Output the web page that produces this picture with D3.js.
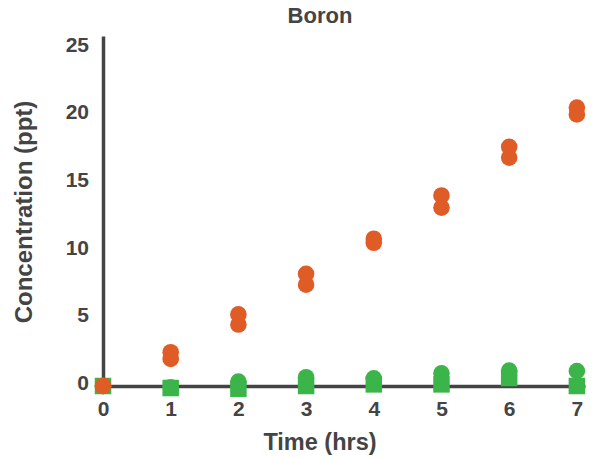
<!DOCTYPE html>
<html>
<head>
<meta charset="utf-8">
<script src="https://cdn.jsdelivr.net/npm/d3@7"></script>
<style>
  body { margin: 0; background: #fff; }
  svg { display: block; font-family: "Liberation Sans", Arial, sans-serif; }
  .tick text { font-size: 21px; font-weight: bold; fill: #444; }
</style>
</head>
<body>
<svg id="chart"></svg>
<script>
// data
let hours = [0, 1, 2, 3, 4, 5, 6, 7];
let orangeHigh = [0, 2.5, 5.3, 8.3, 10.9, 14.1, 17.7, 20.6];
let orangeLow = [0, 2.0, 4.55, 7.5, 10.6, 13.2, 16.9, 20.1];
let greenCircles = [0, -0.1, 0.33, 0.65, 0.57, 0.94, 1.14, 1.11];
let greenSquares = [0, -0.15, -0.2, 0, 0.12, 0.12, 0.59, 0];
let yTicks = [0, 5, 10, 15, 20, 25];

let width = 600;
let height = 457;
let orange = '#e05c26';
let green = '#3bb54a';
let ink = '#444';

let svg = d3.select('#chart')
  .attr('width', width)
  .attr('height', height);

let x = d3.scaleLinear().domain([0, 7.12]).range([103, 585]);
let y = d3.scaleLinear().domain([0, 25.9]).range([386, 36]);

// y axis
let yAxis = svg.append('g')
  .attr('transform', 'translate(' + x(0) + ',0)')
  .call(d3.axisLeft(y).tickValues(yTicks).tickSize(0).tickPadding(14));
yAxis.select('.domain').attr('stroke', ink).attr('stroke-width', 3.5);
yAxis.selectAll('.tick text').attr('dy', '0.15em');

// x axis
let xAxis = svg.append('g')
  .attr('transform', 'translate(0,' + y(0) + ')')
  .call(d3.axisBottom(x).tickValues(hours).tickFormat(d3.format('d')).tickSize(0).tickPadding(15));
xAxis.select('.domain').attr('stroke', ink).attr('stroke-width', 3.5);

// markers
let side = 16.5;
let r = 8.3;

svg.append('g').selectAll('rect')
  .data(hours)
  .enter()
  .append('rect')
  .attr('x', function (d) { return x(d) - side / 2; })
  .attr('y', function (d, i) { return y(greenSquares[i]) - side / 2; })
  .attr('width', side)
  .attr('height', side)
  .attr('fill', green);

svg.append('g').selectAll('circle')
  .data(hours)
  .enter()
  .append('circle')
  .attr('cx', function (d) { return x(d); })
  .attr('cy', function (d, i) { return y(greenCircles[i]); })
  .attr('r', r)
  .attr('fill', green);

[orangeLow, orangeHigh].forEach(function (series) {
  svg.append('g').selectAll('circle')
    .data(hours)
    .enter()
    .append('circle')
    .attr('cx', function (d) { return x(d); })
    .attr('cy', function (d, i) { return y(series[i]); })
    .attr('r', r)
    .attr('fill', orange);
});

// titles
svg.append('text')
  .attr('x', 320)
  .attr('y', 23)
  .attr('text-anchor', 'middle')
  .style('font-size', '22px')
  .style('font-weight', 'bold')
  .style('fill', ink)
  .text('Boron');

svg.append('text')
  .attr('x', 320)
  .attr('y', 450)
  .attr('text-anchor', 'middle')
  .style('font-size', '23.5px')
  .style('font-weight', 'bold')
  .style('fill', ink)
  .text('Time (hrs)');

svg.append('text')
  .attr('transform', 'translate(32,212) rotate(-90)')
  .attr('text-anchor', 'middle')
  .style('font-size', '24px')
  .style('font-weight', 'bold')
  .style('fill', ink)
  .text('Concentration (ppt)');
</script>
</body>
</html>
